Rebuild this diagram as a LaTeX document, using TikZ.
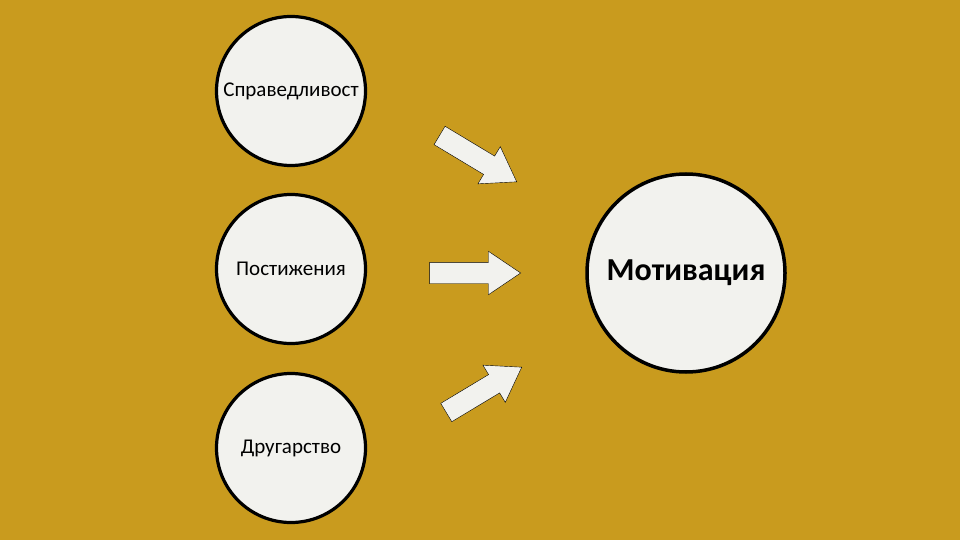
\documentclass[tikz,border=0pt]{standalone}
\usepackage{fontspec}
\setmainfont{Carlito}
\usetikzlibrary{shapes.arrows}
\definecolor{gold}{RGB}{201,155,30}
\definecolor{paper}{RGB}{242,242,238}
\begin{document}
\begin{tikzpicture}[x=1pt, y=-1pt]
        \fill[gold] (0, 0) rectangle (960, 540);
        \useasboundingbox (0, 0) rectangle (960, 540);

        \foreach \name/\y/\txt in {fair/91/Справедливост, achieve/269/Постижения, friend/448/Другарство} {
            \node[circle, draw, line width=3.2pt, fill=paper, minimum size=149pt, inner sep=0pt,
                  font=\fontsize{21}{24}\selectfont] (\name) at (291, \y) {\txt};
        }

        \node[circle, draw, line width=3.5pt, fill=paper, minimum size=198pt, inner sep=0pt,
              font=\fontsize{32}{38}\selectfont\bfseries] (motiv) at (686, 273) {Мотивация};

        \node[single arrow, draw, thin, fill=paper, minimum height=90pt, inner xsep=0pt, inner ysep=10.5pt,
              single arrow head extend=11pt, single arrow tip angle=68, anchor=tip, rotate=-31] (arrtop) at (517, 182) {};
        \node[single arrow, draw, thin, fill=paper, minimum height=91pt, inner xsep=0pt, inner ysep=10.5pt,
              single arrow head extend=11pt, single arrow tip angle=68, anchor=tip] (arrmid) at (521, 273) {};
        \node[single arrow, draw, thin, fill=paper, minimum height=88pt, inner xsep=0pt, inner ysep=10.5pt,
              single arrow head extend=11pt, single arrow tip angle=68, anchor=tip, rotate=31] (arrbot) at (522, 367) {};
    \end{tikzpicture}
\end{document}
